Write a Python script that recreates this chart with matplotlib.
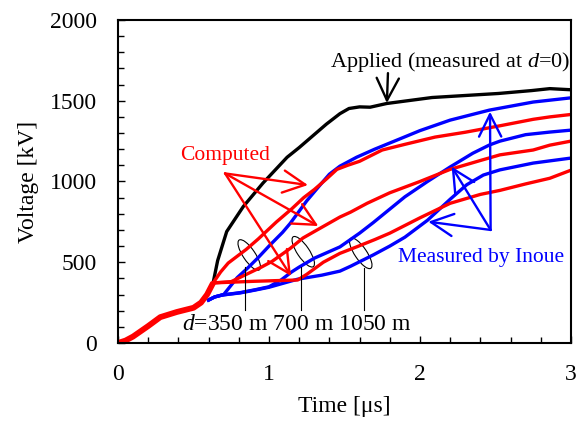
import numpy as np
import matplotlib
matplotlib.use('Agg')
import matplotlib.pyplot as plt
from matplotlib.ticker import MultipleLocator
from matplotlib.patches import Ellipse
from matplotlib.transforms import ScaledTranslation

plt.rcParams['font.family'] = ['Liberation Serif', 'DejaVu Serif']
plt.rcParams['mathtext.fontset'] = 'custom'
plt.rcParams['mathtext.rm'] = 'Liberation Serif'
plt.rcParams['mathtext.it'] = 'Liberation Serif:italic'

# common rising part of the computed waves (t in us, V in kV)
t_common = [0, 0.05, 0.1, 0.2, 0.28, 0.39, 0.5, 0.55, 0.59, 0.63]
v_common = [0, 15, 40, 105, 160, 192, 218, 250, 300, 372]

# applied voltage (measured at d=0)
t_applied = [0.63, 0.66, 0.72, 0.83, 0.96, 1.12, 1.2, 1.38, 1.47, 1.53, 1.6, 1.67,
             1.78, 2.08, 2.52, 2.74, 2.86, 3.0]
v_applied = [372, 510, 690, 845, 990, 1150, 1210, 1355, 1420, 1452, 1462, 1460,
             1483, 1520, 1545, 1563, 1575, 1568]

# computed
t_c350 = [0.63, 0.68, 0.73, 0.85, 0.93, 1.05, 1.15, 1.23, 1.3, 1.38, 1.45, 1.52,
          1.6, 1.75, 1.9, 2.1, 2.3, 2.53, 2.75, 2.86, 3.0]
v_c350 = [372, 440, 495, 580, 645, 750, 830, 900, 950, 1015, 1075, 1100,
          1125, 1195, 1230, 1275, 1305, 1345, 1385, 1400, 1415]
t_c700 = [0.63, 0.75, 0.85, 0.95, 1.02, 1.14, 1.225, 1.3, 1.47, 1.54, 1.65, 1.8,
          1.9, 2.0, 2.2, 2.4, 2.53, 2.75, 2.86, 3.0]
v_c700 = [372, 380, 425, 470, 505, 585, 650, 690, 780, 810, 865, 930,
          965, 1000, 1075, 1130, 1165, 1195, 1225, 1250]
t_c1050 = [0.63, 0.9, 1.19, 1.25, 1.36, 1.47, 1.58, 1.7, 1.8, 2.0, 2.2, 2.4,
           2.53, 2.7, 2.86, 3.0]
v_c1050 = [372, 382, 390, 425, 500, 555, 595, 640, 680, 775, 865, 920,
           945, 985, 1020, 1070]

# measured by Inoue
t_m350 = [0.6, 0.64, 0.7, 0.79, 0.86, 0.93, 1.0, 1.09, 1.14, 1.25, 1.34, 1.4,
          1.47, 1.58, 1.7, 1.87, 2.0, 2.2, 2.46, 2.75, 3.0]
v_m350 = [266, 285, 300, 405, 465, 530, 600, 685, 740, 880, 980, 1045,
          1095, 1150, 1200, 1265, 1315, 1380, 1442, 1492, 1518]
t_m700 = [0.6, 0.64, 0.69, 0.81, 0.91, 1.0, 1.08, 1.15, 1.2, 1.3, 1.47, 1.6,
          1.69, 1.9, 2.05, 2.2, 2.35, 2.46, 2.53, 2.7, 2.86, 3.0]
v_m700 = [266, 285, 297, 312, 330, 348, 390, 440, 470, 525, 595, 680,
          745, 905, 1000, 1090, 1175, 1226, 1250, 1290, 1306, 1318]
t_m1050 = [0.6, 0.64, 0.69, 0.81, 0.91, 1.0, 1.19, 1.35, 1.47, 1.54, 1.69, 1.8,
           1.9, 2.05, 2.2, 2.31, 2.42, 2.53, 2.75, 3.0]
v_m1050 = [266, 285, 297, 310, 328, 345, 395, 420, 445, 475, 545, 600,
           655, 760, 890, 980, 1040, 1072, 1114, 1145]

RED = '#ff0000'
BLUE = '#0000ff'

fig = plt.figure(figsize=(5.77, 4.21), dpi=100)
ax = fig.add_axes([0.2045, 0.1853, 0.785, 0.7672])

lw = 2.4
ax.plot(t_applied, v_applied, color='black', lw=lw, solid_capstyle='butt')
for t, v in [(t_m350, v_m350), (t_m700, v_m700), (t_m1050, v_m1050)]:
    ax.plot(t, v, color=BLUE, lw=lw)
for t, v in [(t_c350, v_c350), (t_c700, v_c700), (t_c1050, v_c1050)]:
    ax.plot(t, v, color=RED, lw=lw)
ax.plot(t_common, v_common, color=RED, lw=4.2, solid_capstyle='butt')

# ellipses marking the pairs + leader lines
for (xc, yc), xs, ytop in [((0.869, 545), 0.841, 472),
                           ((1.227, 565), 1.212, 470),
                           ((1.608, 555), 1.629, 464)]:
    tr = fig.dpi_scale_trans + ScaledTranslation(xc, yc, ax.transData)
    ax.add_patch(Ellipse((0, 0), 0.36, 0.12, angle=-56, transform=tr,
                         fill=False, ec='black', lw=0.8))
    ax.plot([xs, xs], [ytop, 205], color='black', lw=0.8)

arrow_kw = dict(arrowstyle='->, head_length=0.8, head_width=0.4',
                mutation_scale=20, shrinkA=0, shrinkB=0, lw=1.7)

# computed arrows
for tip in [(1.258, 978), (1.327, 724), (1.146, 415)]:
    ax.annotate('', xy=tip, xytext=(0.709, 1050),
                arrowprops=dict(color=RED, **arrow_kw))
# measured arrows
for tip in [(2.464, 1432), (2.21, 1092), (2.055, 751)]:
    ax.annotate('', xy=tip, xytext=(2.468, 700),
                arrowprops=dict(color=BLUE, **arrow_kw))
# applied arrow
ax.annotate('', xy=(1.781, 1486), xytext=(1.788, 1671),
            arrowprops=dict(color='black', **arrow_kw))

ax.text(2.2, 1706, 'Applied (measured at $d$=0)', ha='center', va='baseline',
        fontsize=16)
ax.text(0.712, 1133, 'Computed', ha='center', va='baseline', fontsize=15.5, color=RED)
ax.text(2.408, 503, 'Measured by Inoue', ha='center', va='baseline', fontsize=15.5,
        color=BLUE)
ax.text(0.424, 82, '$d$=350 m 700 m 1050 m', ha='left', va='baseline', fontsize=17)

ax.set_xlim(0, 3)
ax.set_ylim(0, 2000)
ax.set_xticks([0, 1, 2, 3])
ax.set_yticks([0, 500, 1000, 1500, 2000])
ax.xaxis.set_minor_locator(MultipleLocator(0.2))
ax.yaxis.set_minor_locator(MultipleLocator(100))
ax.tick_params(which='both', direction='in', labelsize=17, width=1)
ax.tick_params(axis='y', which='both', pad=15)
ax.tick_params(axis='x', which='both', pad=15)
ax.tick_params(which='major', length=5)
ax.tick_params(which='minor', length=4)
for s in ax.spines.values():
    s.set_linewidth(1.5)

ax.set_xlabel('Time [μs]', fontsize=17, labelpad=8)
ax.set_ylabel('Voltage [kV]', fontsize=17, labelpad=8)

fig.savefig('out.png', dpi=100)
